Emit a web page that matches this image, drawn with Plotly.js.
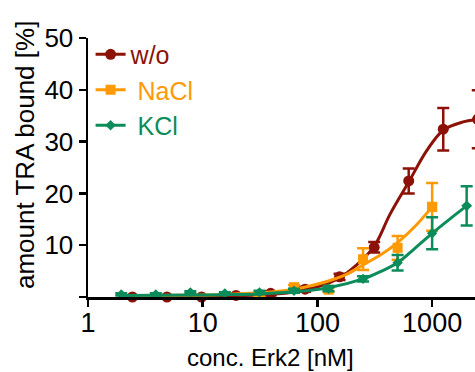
<!DOCTYPE html>
<html>
<head>
<meta charset="utf-8">
<script src="https://cdn.plot.ly/plotly-3.0.1.min.js"></script>
<style>
html,body{margin:0;padding:0;overflow:hidden;background:#fff;}
#chart{width:520px;height:372px;}
</style>
</head>
<body>
<div id="chart"></div>
<script>
// ---- data ----
var concWo   = [2.44, 4.88, 9.77, 19.5, 39.1, 78.1, 156, 312.5, 625, 1250, 2500];
var valWo    = [0, 0, 0, 0.3, 0.7, 1.5, 3.9, 9.6, 22.4, 32.4, 34.3];
var errWo    = [0.3, 0.3, 0.3, 0.3, 0.4, 0.5, 0.6, 1.0, 2.4, 4.1, 5.6];

var concNaCl = [31.25, 62.5, 125, 250, 500, 1000];
var valNaCl  = [-0.2, 1.9, 1.4, 7.3, 9.5, 17.4];
var errNaCl  = [0.3, 0.4, 0.4, 2.1, 2.3, 4.6];

var concKCl  = [1.95, 3.9, 7.8, 15.6, 31.25, 62.5, 125, 250, 500, 1000, 2000];
var valKCl   = [0.5, 0.5, 0.9, 0.7, 0.9, 1.2, 1.6, 3.5, 6.6, 12.3, 17.6];
var errKCl   = [0.2, 0.2, 0.2, 0.2, 0.3, 0.4, 0.5, 0.5, 1.5, 3.1, 3.8];

// fitted curves (highest concentration first)
var fitWoX   = [2500, 1860, 1250, 900, 625, 430, 312.5, 220, 156, 78, 39, 20, 10, 5, 2.44];
var fitWoY   = [34.3, 33.8, 32.2, 28.3, 22.2, 16.0, 9.8, 6.2, 3.7, 1.3, 0.5, 0.25, 0.12, 0.06, 0.03];
var fitNaClX = [1000, 707, 500, 354, 250, 177, 125, 62.5, 31.25, 15.6, 7.8, 3.9, 2.44];
var fitNaClY = [17.4, 13.6, 10.5, 8.1, 6.2, 4.3, 3.1, 1.5, 0.8, 0.5, 0.35, 0.3, 0.25];
var fitKClX  = [2000, 1414, 1000, 707, 500, 354, 250, 125, 62.5, 31.25, 15.6, 7.8, 3.9, 1.95];
var fitKClY  = [17.6, 15.0, 12.3, 9.4, 6.6, 4.9, 3.5, 1.8, 1.0, 0.6, 0.45, 0.38, 0.33, 0.3];

var seriesNames = ['w/o', '\u00a0NaCl', '\u00a0KCl'];
var xTickVals = [1, 10, 100, 1000];
var xTickText = ['1', '10', '100', '1000'];
var yTickVals = [0, 10, 20, 30, 40, 50];
var yTickText = ['', '10', '20', '30', '40', '50'];

// ---- styles ----
var cRed = '#8c1106', cOrange = '#ff9a05', cGreen = '#0b8c5a';
var FONT = 'Liberation Sans, Arial, Helvetica, sans-serif';

function dataTrace(x, y, e, color, symbol, size) {
  return {
    x: x, y: y, type: 'scatter', mode: 'markers', showlegend: false,
    marker: {color: color, symbol: symbol, size: size},
    error_y: {type: 'data', array: e, visible: true, color: color, thickness: 2.5, width: 6},
    cliponaxis: false, hoverinfo: 'skip'
  };
}
function fitTrace(x, y, color, symbol, size, name) {
  var cols = x.map(function (v, i) { return i === 0 ? color : 'rgba(0,0,0,0)'; });
  return {
    x: x, y: y, type: 'scatter', mode: 'lines+markers', name: '<span style="color:' + color + '">' + name + '</span>',
    line: {color: color, width: 3, shape: 'spline', smoothing: 1},
    marker: {color: cols, symbol: symbol, size: size},
    cliponaxis: false, hoverinfo: 'skip'
  };
}

var traces = [
  dataTrace(concWo, valWo, errWo, cRed, 'circle', 11),
  fitTrace(fitWoX, fitWoY, cRed, 'circle', 11, seriesNames[0]),
  dataTrace(concNaCl, valNaCl, errNaCl, cOrange, 'square', 10),
  fitTrace(fitNaClX, fitNaClY, cOrange, 'square', 10, seriesNames[1]),
  dataTrace(concKCl, valKCl, errKCl, cGreen, 'diamond', 8),
  fitTrace(fitKClX, fitKClY, cGreen, 'diamond', 8, seriesNames[2])
];

var layout = {
  width: 520, height: 372,
  margin: {l: 88, r: 0, t: 38, b: 75},
  paper_bgcolor: '#fff', plot_bgcolor: '#fff',
  font: {family: FONT, size: 25, color: '#000'},
  showlegend: true,
  legend: {x: 0.006, y: 1.025, xanchor: 'left', yanchor: 'top', bgcolor: 'rgba(0,0,0,0)',
           font: {family: FONT, size: 25}, itemwidth: 30, traceorder: 'normal'},
  xaxis: {
    type: 'log', range: [0, 3.766], showgrid: false, zeroline: false,
    showline: true, linecolor: '#000', linewidth: 2.5,
    ticks: 'outside', ticklen: 7, tickwidth: 2.5, tickcolor: '#000',
    tickmode: 'array', tickvals: xTickVals, ticktext: xTickText,
    ticklabelstandoff: -7,
    tickfont: {family: FONT, size: 27, color: '#000'}
  },
  yaxis: {
    range: [0, 50], showgrid: false, zeroline: false,
    showline: true, linecolor: '#000', linewidth: 2.5,
    ticks: 'outside', ticklen: 7, tickwidth: 2.5, tickcolor: '#000',
    tickmode: 'array', tickvals: yTickVals, ticktext: yTickText,
    tickfont: {family: FONT, size: 26, color: '#000'}
  },
  annotations: [
    {text: 'conc. Erk2 [nM]', xref: 'paper', yref: 'paper', x: 0.4236, y: -0.235,
     xanchor: 'center', yanchor: 'middle', showarrow: false,
     font: {family: FONT, size: 24, color: '#000'}},
    {text: 'amount TRA bound [%]', xref: 'paper', yref: 'paper', x: -0.146, y: 0.548,
     xanchor: 'center', yanchor: 'middle', textangle: -90, showarrow: false,
     font: {family: FONT, size: 26, color: '#000'}}
  ]
};

Plotly.newPlot('chart', traces, layout, {displayModeBar: false, staticPlot: true});
</script>
</body>
</html>
